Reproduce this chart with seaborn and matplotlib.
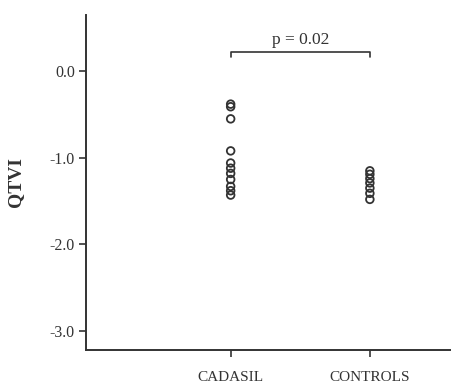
import matplotlib
matplotlib.use("Agg")
import matplotlib.pyplot as plt
import seaborn as sns
import pandas as pd

groups = ["CADASIL", "CONTROLS"]
cadasil = [-0.38, -0.41, -0.55, -0.92, -1.06, -1.12, -1.18, -1.25, -1.33, -1.38, -1.43]
controls = [-1.15, -1.19, -1.24, -1.29, -1.35, -1.41, -1.48]
yticks = [0.0, -1.0, -2.0, -3.0]
ytick_labels = ["0.0", "-1.0", "-2.0", "-3.0"]
p_label = "p = 0.02"

df = pd.DataFrame({
    "group": [groups[0]] * len(cadasil) + [groups[1]] * len(controls),
    "QTVI": cadasil + controls,
})

sns.set_style("white")
plt.rcParams["font.family"] = ["Liberation Serif", "DejaVu Serif"]
plt.rcParams["axes.unicode_minus"] = False

ink = "#333333"
fig = plt.figure(figsize=(4.52, 3.83), dpi=100)
ax = fig.add_axes([0.190, 0.086, 0.810, 0.875])

sns.stripplot(data=df, x="group", y="QTVI", order=groups, jitter=False,
              marker="o", size=5.5, color=ink, linewidth=1.3,
              edgecolor=ink, ax=ax)
for coll in ax.collections:
    coll.set_facecolor("none")
    coll.set_edgecolor(ink)

ax.set_xlim(-1.04, 1.59)
ax.set_ylim(-3.22, 0.65)
ax.set_yticks(yticks)
ax.set_yticklabels(ytick_labels)
ax.set_xlabel("")
ax.set_ylabel("QTVI", fontsize=14, fontweight="bold", color=ink, labelpad=18)

for s in ["top", "right"]:
    ax.spines[s].set_visible(False)
for s in ["left", "bottom"]:
    ax.spines[s].set_color(ink)
    ax.spines[s].set_linewidth(1.4)

ax.tick_params(axis="y", direction="out", length=5, width=1.2, colors=ink,
               labelsize=11.5, pad=3, left=True)
ax.tick_params(axis="x", direction="out", length=5, width=1.2, colors=ink,
               labelsize=11, pad=10, bottom=True)

# significance bracket
yb = 0.22
ax.plot([0, 0, 1, 1], [yb - 0.06, yb, yb, yb - 0.06], color=ink, lw=1.2)
ax.text(0.5, yb + 0.05, p_label, ha="center", va="bottom", fontsize=12.5, color=ink)

fig.savefig("out.png", dpi=100)
